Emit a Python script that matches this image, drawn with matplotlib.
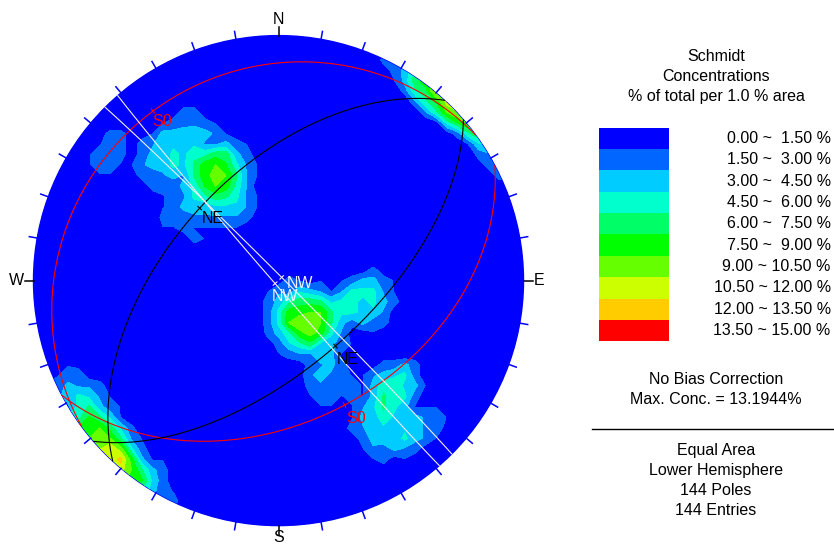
import numpy as np
import matplotlib.pyplot as plt
from matplotlib.patches import Circle, Rectangle

plt.rcParams['font.family'] = ['Liberation Sans', 'DejaVu Sans']

poles_nw = [(328, 48), (330.5, 47.8), (330.4, 49.9), (325.3, 48.2), (327.3, 50.5),
            (326.7, 45.2), (333.1, 47.9), (329.2, 44.7), (338.2, 47.0), (324.7, 39.6),
            (332.6, 55.2), (317.2, 50.2), (323.2, 54.8), (333.2, 41.2), (337.6, 51.7),
            (318.5, 43.3), (327.4, 57.6), (330.3, 38.1), (321.5, 32.2), (315.2, 33.3),
            (327.1, 28.6), (333.7, 33.9), (346.8, 44.5), (337.7, 58.9), (306.2, 47.7),
            (310.3, 56.0), (321.9, 61.7), (330.9, 64.0), (315.2, 29.9), (319.3, 29.0),
            (311.2, 32.2), (307.9, 42.3), (299.4, 52.8), (325.7, 23.7), (333.5, 27.5)]
poles_nw_small = [(305, 15), (309, 17), (307, 13)]
poles_centre = [(146.1, 74.2), (148.0, 76.5), (144.6, 71.9), (138.5, 75.2), (154.7, 74.1),
                (137.3, 73.1), (152.7, 72.3), (132.1, 75.5), (154.8, 81.1), (120.5, 74.0),
                (138.6, 68.1), (164.0, 70.1), (171.1, 76.1), (148.4, 66.8), (134.9, 80.9),
                (128.8, 70.2), (170.1, 71.7), (170.9, 86.8), (192.5, 80.0), (143.4, 61.1),
                (125.8, 64.7), (157.1, 63.0), (109.0, 70.1)]
poles_east_lobe = [(102.0, 62.2), (104.9, 58.3), (108.8, 59.4), (105.6, 63.5),
                   (98.5, 57.3), (96.4, 61.9), (109.5, 50.1), (92.4, 54.2)]
poles_south_lobe = [(153.8, 54.6), (153.5, 49.5), (159.6, 49.9), (148.3, 53.9)]
poles_se = [(130.5, 37.5), (131.0, 33.6), (134.7, 35.1), (134.5, 31.1), (133.6, 38.2),
            (140.1, 32.7), (144.5, 30.8), (142.3, 26.5), (149.4, 29.0), (147.5, 23.9),
            (143.1, 21.8), (138.6, 18.7), (138.0, 14.7), (133.6, 18.6), (131.4, 43.0),
            (126.7, 32.6), (130.4, 14.5), (147.6, 36.6), (141.7, 40.7), (146.5, 17.2)]
poles_sw_edge = [(221, 1), (224, 3), (226, 2), (228, 5), (229, 1), (231, 4), (227, 8),
                 (233, 7), (225, 6), (232, 12), (235, 3), (219, 4), (223, 9), (237, 9),
                 (240, 5), (216, 7), (213, 2), (242, 11), (234, 14), (218, 12), (245, 4),
                 (210, 5), (238, 1), (227, 3)]
poles_ne_edge = [(38, 1), (43, 2), (46, 1), (40, 3), (50, 2), (33, 2),
                 (41, 2), (42, 0.5), (37, 3)]
poles_scatter = [(270, 45), (285, 20), (200, 50), (195, 25), (20, 55), (5, 25), (80, 25),
                 (250, 65), (65, 50), (170, 10), (100, 5), (265, 8), (345, 8), (0, 5),
                 (230, 40), (60, 20), (180, 35), (290, 65)]

# planes drawn as great circles (dip direction, dip)
plane_dipdir = [323.5, 152, 312.6, 139, 45, 229]
plane_dip = [15, 42, 54, 61, 88.5, 88.5]
plane_label = ['S0', 'S0', 'NE', 'NE', 'NW', 'NW']

# contour classes (% of total per 1 % area)
levels = [0, 1.5, 3, 4.5, 6, 7.5, 9, 10.5, 12, 13.5, 15]
band_colors = ['#0000FF', '#0066FF', '#00CCFF', '#00FFCC', '#00FF66',
               '#00FF00', '#66FF00', '#CCFF00', '#FFCC00', '#FF0000']

plane_style = {'S0': '#FF0000', 'NE': 'black', 'NW': '#F0F0F8'}
label_shift = [(-1, 3), (2, 6), (2, 3), (1, 6), (5, -1), (-3, 5.5)]  # px

poles = (poles_nw + poles_nw_small + poles_centre + poles_east_lobe + poles_south_lobe
         + poles_se + poles_sw_edge + poles_ne_edge + poles_scatter)
poles = np.array(poles, dtype=float)
FS = 11.5


def to_vec(trend, plunge):
    t = np.radians(trend)
    p = np.radians(plunge)
    return np.stack([np.cos(p) * np.sin(t), np.cos(p) * np.cos(t), np.sin(p)], axis=-1)


def project(v):
    # lower hemisphere, equal area, unit primitive
    v = np.where(v[..., 2:3] < 0, -v, v)
    k = 1.0 / np.sqrt(1.0 + v[..., 2])
    return v[..., 0] * k, v[..., 1] * k


# Schmidt counting: 1 % area circle on the hemisphere
P = to_vec(poles[:, 0], poles[:, 1])
g = np.linspace(-1.03, 1.03, 49)
X, Y = np.meshgrid(g, g)
rho = np.hypot(X, Y)
s = np.where(rho > 1, 1 / np.maximum(rho, 1e-9), 1.0)
Xc, Yc = X * s, Y * s
z = 1 - (Xc ** 2 + Yc ** 2)
h = np.sqrt(1 + z)
nodes = np.stack([Xc * h, Yc * h, z], axis=-1)
inside = np.abs(nodes @ P.T) >= 1 - 0.01
conc = inside.sum(-1) / len(P) * 100
print(len(poles), 'poles, max conc', conc.max())

# figure, 1 data unit = 245 px
fig = plt.figure(figsize=(8.34, 5.46), dpi=100)
R = 245.0
cx, cy = 278.5, 280.6
ax = fig.add_axes([0, 0, 560 / 834, 1])
ax.set_xlim(-cx / R, (560 - cx) / R)
ax.set_ylim(-(546 - cy) / R, cy / R)
ax.axis('off')

prim = Circle((0, 0), 1, transform=ax.transData)
ax.add_patch(Circle((0, 0), 1, color=band_colors[0], zorder=0))
cs = ax.contourf(X, Y, conc, levels=levels, colors=band_colors, zorder=1)
cs.set_clip_path(prim)

# great circles
for dd, dip, lab, (ox, oy) in zip(plane_dipdir, plane_dip, plane_label, label_shift):
    c = plane_style[lab]
    st, d, dp = np.radians(dd - 90), np.radians(dd), np.radians(dip)
    sv = np.array([np.sin(st), np.cos(st), 0.0])
    dv = np.array([np.cos(dp) * np.sin(d), np.cos(dp) * np.cos(d), np.sin(dp)])
    phi = np.linspace(0, np.pi, 361)
    v = np.outer(np.cos(phi), sv) + np.outer(np.sin(phi), dv)
    gx, gy = project(v)
    ax.plot(gx, gy, color=c, lw=0.8, zorder=3)
    px, py = project(dv)
    ux, uy = np.sin(d), np.cos(d)
    ax.plot([px - 2.5 / R * ux, px + 2.5 / R * ux], [py - 2.5 / R * uy, py + 2.5 / R * uy],
            color=c, lw=0.8, zorder=3)
    ax.annotate(lab, xy=(px, py), xytext=(ox * 0.72, -oy * 0.72), textcoords='offset points',
                ha='left', va='top', fontsize=FS, color=c, zorder=4)

# ticks every 10 degrees and compass letters
for a in range(0, 360, 10):
    t = np.radians(a)
    if a % 90 == 0:
        r1 = 1 + 9 / R
        col = 'black'
    else:
        r1 = 1 + 8 / R
        col = '#0000FF'
    ax.plot([np.sin(t), r1 * np.sin(t)], [np.cos(t), r1 * np.cos(t)], color=col,
            lw=1.1, zorder=3, clip_on=False)
ax.text(0, 1.066, 'N', ha='center', va='center', fontsize=FS)
ax.text(0, -1.048, 'S', ha='center', va='center', fontsize=FS)
ax.text(1.043, 0, 'E', ha='left', va='center', fontsize=FS)
ax.text(-1.039, 0, 'W', ha='right', va='center', fontsize=FS)

# legend panel in pixel coordinates
lg = fig.add_axes([0, 0, 1, 1], facecolor='none')
lg.set_xlim(0, 834)
lg.set_ylim(546, 0)
lg.axis('off')
xc = 716
for i, line in enumerate(['Schmidt', 'Concentrations', '% of total per 1.0 % area']):
    lg.text(xc, 56.7 + 20 * i, line, ha='center', va='center', fontsize=FS)
box_h = 21.35
for i, col in enumerate(band_colors):
    y0 = 127.7 + box_h * i
    lg.add_patch(Rectangle((599.3, y0), 70, box_h, facecolor=col, edgecolor='none'))
    lg.text(830.7, y0 + box_h / 2, f'{levels[i]:.2f} ~ {levels[i + 1]:5.2f} %',
            ha='right', va='center', fontsize=FS)
lg.text(xc, 380, 'No Bias Correction', ha='center', va='center', fontsize=FS)
lg.text(xc, 400, 'Max. Conc. = 13.1944%', ha='center', va='center', fontsize=FS)
lg.plot([591.7, 834], [429.3, 429.3], color='black', lw=1)
info = ['Equal Area', 'Lower Hemisphere', f'{len(poles)} Poles', f'{len(poles)} Entries']
for i, line in enumerate(info):
    lg.text(xc, 450.7 + 20 * i, line, ha='center', va='center', fontsize=FS)

fig.savefig('out.png', dpi=100)
